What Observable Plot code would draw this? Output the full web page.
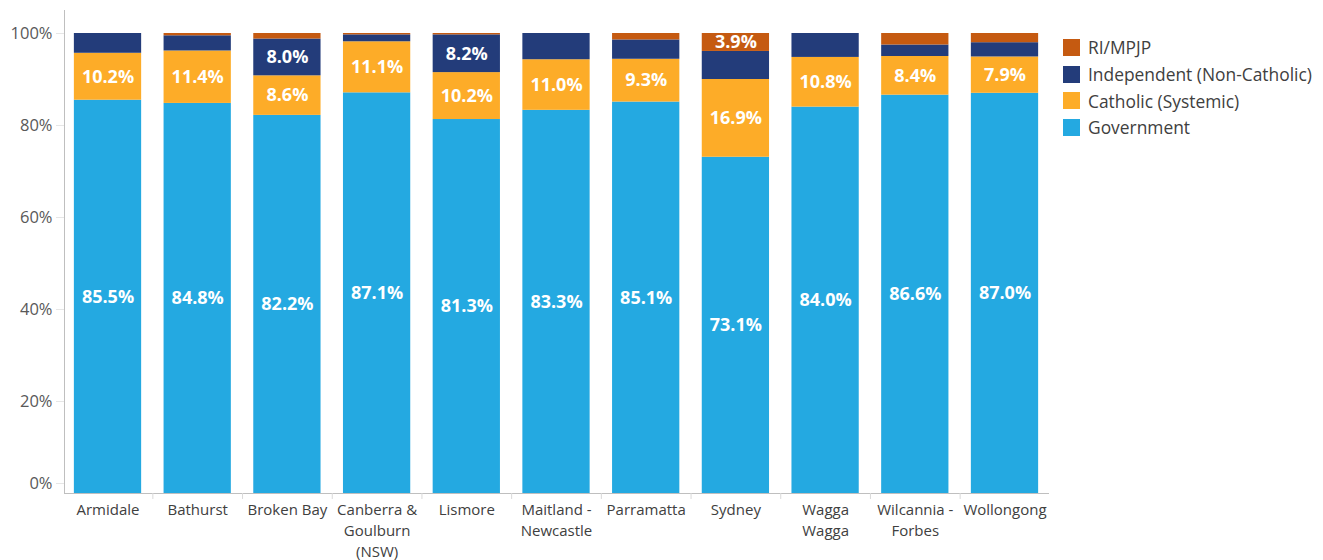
<!DOCTYPE html>
<html>
<head>
<meta charset="utf-8">
<script src="https://cdn.jsdelivr.net/npm/d3@7"></script>
<script src="https://cdn.jsdelivr.net/npm/@observablehq/plot@0.6"></script>
<style>
  html, body { margin: 0; padding: 0; background: #fff; }
  #wrap { position: relative; width: 1323px; height: 560px; font-family: "Open Sans", sans-serif; }
  #legend { position: absolute; left: 1063px; top: 34px; }
  .item { display: flex; align-items: center; height: 26.7px; font-size: 17.4px; color: #404040; white-space: nowrap; }
  .sw { width: 17px; height: 17px; margin-right: 8px; flex: none; }
</style>
</head>
<body>
<div id="wrap"><div id="chart"></div><div id="legend"></div></div>
<script>
const regions = ["Armidale", "Bathurst", "Broken Bay", "Canberra & Goulburn (NSW)", "Lismore", "Maitland - Newcastle", "Parramatta", "Sydney", "Wagga Wagga", "Wilcannia - Forbes", "Wollongong"];
const regionLabels = ["Armidale", "Bathurst", "Broken Bay", "Canberra &\nGoulburn\n(NSW)", "Lismore", "Maitland -\nNewcastle", "Parramatta", "Sydney", "Wagga\nWagga", "Wilcannia -\nForbes", "Wollongong"];
const seriesNames = ["Government", "Catholic (Systemic)", "Independent (Non-Catholic)", "RI/MPJP"];
const seriesColors = ["#24A9E1", "#FDAC28", "#233C7A", "#C55A11"];
const government = [85.5, 84.8, 82.2, 87.1, 81.3, 83.3, 85.1, 73.1, 84.0, 86.6, 87.0];
const catholic = [10.2, 11.4, 8.6, 11.1, 10.2, 11.0, 9.3, 16.9, 10.8, 8.4, 7.9];
const independent = [4.3, 3.3, 8.0, 1.5, 8.2, 5.7, 4.2, 6.1, 5.2, 2.5, 3.1];
const riMpjp = [0.0, 0.5, 1.2, 0.3, 0.3, 0.0, 1.4, 3.9, 0.0, 2.5, 2.0];
const labelledIndependent = ["Broken Bay", "Lismore"];
const labelledRI = ["Sydney"];
const yTicks = [0, 20, 40, 60, 80, 100];

const seriesValues = [government, catholic, independent, riMpjp];
const data = [];
seriesNames.forEach((s, si) => {
  regions.forEach((r, ri) => {
    const v = seriesValues[si][ri];
    const show = si < 2 || (si === 2 && labelledIndependent.includes(r)) || (si === 3 && labelledRI.includes(r));
    data.push({region: r, series: s, value: v, show});
  });
});
const labelOf = new Map(regions.map((r, i) => [r, regionLabels[i]]));

const W = 1323, ML = 64, MR = 275, PI = 0.25, PO = 0.11;
const step = (W - ML - MR) / (regions.length - PI + 2 * PO);

const chart = Plot.plot({
  width: W,
  height: 560,
  marginLeft: ML,
  marginRight: MR,
  marginTop: 10,
  marginBottom: 67,
  style: {fontFamily: "'Open Sans', sans-serif", background: "#fff", overflow: "visible"},
  x: {domain: regions, paddingInner: PI, paddingOuter: PO, round: false, label: null},
  y: {domain: [0, 105], label: null},
  color: {domain: seriesNames, range: seriesColors},
  marks: [
    Plot.barY(data, Plot.stackY({x: "region", y: "value", fill: "series", z: "series", order: seriesNames})),
    Plot.text(data, Plot.stackY({x: "region", y: "value", z: "series", order: seriesNames,
      text: d => d.show ? d.value.toFixed(1) + "%" : "",
      fill: "white", fontWeight: "bold", fontSize: 18})),
    Plot.frame({anchor: "left", stroke: "#bfbfbf"}),
    Plot.frame({anchor: "bottom", stroke: "#bfbfbf"}),
    Plot.ruleX(regions.slice(1), {x: d => d, y1: 0, y2: -1.3, dx: -step / 2, stroke: "#d9d9d9"}),
    Plot.axisY(yTicks.filter(t => t > 0), {tickSize: 8, tickPadding: 4, tickFormat: d => d + "%", stroke: "#e6e6e6", fill: "#595959", fontSize: 16.5}),
    Plot.axisY([0], {tickSize: 8, tickPadding: 4, tickFormat: d => d + "%", stroke: "#e6e6e6", fill: "#595959", fontSize: 16.5, dy: -10}),
    Plot.axisX({tickSize: 0, tickPadding: 7, tickFormat: d => labelOf.get(d), fill: "#404040", fontSize: 15, lineHeight: 1.38, textAnchor: "middle"}),
  ]
});
document.getElementById("chart").appendChild(chart);

const legend = document.getElementById("legend");
[3, 2, 1, 0].forEach(i => {
  const it = document.createElement("div");
  it.className = "item";
  it.innerHTML = `<span class="sw" style="background:${seriesColors[i]}"></span><span>${seriesNames[i]}</span>`;
  legend.appendChild(it);
});
</script>
</body>
</html>
